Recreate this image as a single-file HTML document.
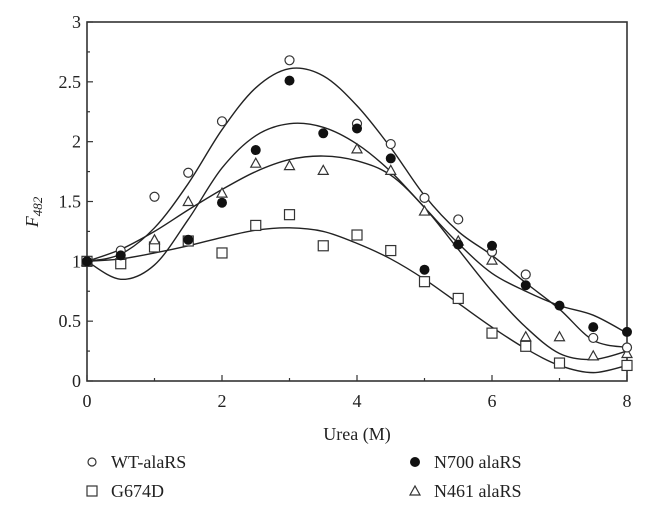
<!DOCTYPE html>
<html><head><meta charset="utf-8"><style>
html,body{margin:0;padding:0;background:#fff;}
svg{display:block;font-family:"Liberation Serif",serif;}
</style></head><body>
<svg id="chart" width="648" height="509"></svg>
<script>
const xVals=[0,0.5,1,1.5,2,2.5,3,3.5,4,4.5,5,5.5,6,6.5,7,7.5,8];
const wtX=[0,0.5,1,1.5,2,3,4,4.5,5,5.5,6,6.5,7.5,8];
const wtY=[1.0,1.09,1.54,1.74,2.17,2.68,2.15,1.98,1.53,1.35,1.08,0.89,0.36,0.28];
const n700X=[0,0.5,1.5,2,2.5,3,3.5,4,4.5,5,5.5,6,6.5,7,7.5,8];
const n700Y=[1.0,1.05,1.18,1.49,1.93,2.51,2.07,2.11,1.86,0.93,1.14,1.13,0.80,0.63,0.45,0.41];
const n461X=[0,0.5,1,1.5,2,2.5,3,3.5,4,4.5,5,5.5,6,6.5,7,7.5,8];
const n461Y=[1.0,1.05,1.18,1.50,1.57,1.82,1.80,1.76,1.94,1.76,1.42,1.17,1.01,0.37,0.37,0.21,0.23];
const gX=[0,0.5,1,1.5,2,2.5,3,3.5,4,4.5,5,5.5,6,6.5,7,8];
const gY=[1.0,0.98,1.12,1.17,1.07,1.30,1.39,1.13,1.22,1.09,0.83,0.69,0.40,0.29,0.15,0.13];
const wtFit=[1.0,1.06,1.28,1.65,2.1,2.45,2.61,2.55,2.3,1.95,1.55,1.25,1.05,0.82,0.6,0.34,0.28];
const n700Fit=[1.0,0.85,0.97,1.35,1.78,2.05,2.15,2.12,1.98,1.75,1.45,1.15,0.9,0.75,0.63,0.55,0.4];
const n461Fit=[1.0,1.1,1.25,1.43,1.6,1.75,1.85,1.88,1.84,1.72,1.45,1.1,0.75,0.45,0.23,0.18,0.25];
const gFit=[1.0,1.02,1.07,1.13,1.2,1.26,1.28,1.25,1.15,1.02,0.85,0.65,0.45,0.27,0.13,0.07,0.13];
const xTickLabels=["0","2","4","6","8"];
const yTickLabels=["0","0.5","1","1.5","2","2.5","3"];

const NS="http://www.w3.org/2000/svg";
const svg=document.getElementById('chart');
const X0=87,X1=627,Y0=381,Y1=22;
const sx=v=>X0+(X1-X0)*v/8;
const sy=v=>Y0-(Y0-Y1)*v/3;
function mk(tag,attrs,parent){const e=document.createElementNS(NS,tag);for(const k in attrs)e.setAttribute(k,attrs[k]);(parent||svg).appendChild(e);return e;}

const frame=mk('rect',{x:X0,y:Y1,width:X1-X0,height:Y0-Y1,fill:'none',stroke:'#333','stroke-width':1.6});



for(let i=0;i<=8;i++){
  const len=i%2===0?6:3;
  const t=mk('line',{x1:sx(i),x2:sx(i),y1:Y0,y2:Y0-len,stroke:'#333','stroke-width':1.2});
  
  
}
xTickLabels.forEach((s,i)=>{
  const t=mk('text',{x:sx(i*2),y:Y0+26,'text-anchor':'middle','font-size':18,fill:'#222'});
  t.textContent=s;
  
  
});
for(let i=0;i<=12;i++){
  const len=i%2===0?6:3;
  const t=mk('line',{x1:X0,x2:X0+len,y1:sy(i*0.25),y2:sy(i*0.25),stroke:'#333','stroke-width':1.2});
  
  
}
yTickLabels.forEach((s,i)=>{
  const t=mk('text',{x:X0-6,y:sy(i*0.5)+6,'text-anchor':'end','font-size':18,fill:'#222'});
  t.textContent=s;
  
  
});
const xt=mk('text',{x:357,y:440,'text-anchor':'middle','font-size':18,fill:'#222'});
xt.textContent='Urea (M)';


const yt=mk('text',{transform:'translate(38,212) rotate(-90)','text-anchor':'middle','font-size':18,fill:'#222','font-style':'italic'});
yt.innerHTML='F<tspan font-size="13" dy="4">482</tspan>';



function curve(vals,name){
  const p=xVals.map((x,i)=>[sx(x),sy(vals[i])]);
  let d='M'+p[0][0]+','+p[0][1];
  for(let i=0;i<p.length-1;i++){
    const a=p[Math.max(0,i-1)],b=p[i],c=p[i+1],e=p[Math.min(p.length-1,i+2)];
    d+=' C'+(b[0]+(c[0]-a[0])/6)+','+(b[1]+(c[1]-a[1])/6)+' '+(c[0]-(e[0]-b[0])/6)+','+(c[1]-(e[1]-b[1])/6)+' '+c[0]+','+c[1];
  }
  const el=mk('path',{d:d,fill:'none',stroke:'#222','stroke-width':1.4});
  
  
}
curve(wtFit,'wt-fit-curve');
curve(n700Fit,'n700-fit-curve');
curve(n461Fit,'n461-fit-curve');
curve(gFit,'g674d-fit-curve');

function marker(kind,cx,cy,g){
  if(kind==='circle') return mk('circle',{cx:cx,cy:cy,r:4.5,fill:'#fff',stroke:'#333','stroke-width':1.2},g);
  if(kind==='dot') return mk('circle',{cx:cx,cy:cy,r:5,fill:'#111'},g);
  if(kind==='square') return mk('rect',{x:cx-5,y:cy-5,width:10,height:10,fill:'#fff',stroke:'#333','stroke-width':1.2},g);
  return mk('polygon',{points:(cx-5)+','+(cy+4)+' '+(cx+5)+','+(cy+4)+' '+cx+','+(cy-5),fill:'#fff',stroke:'#333','stroke-width':1.2},g);
}
function series(xs,ys,kind,name){
  xs.forEach((x,i)=>{
    const m=marker(kind,sx(x),sy(ys[i]));
    
    
  });
}
series(gX,gY,'square','g674d-point');
series(n461X,n461Y,'tri','n461-point');
series(wtX,wtY,'circle','wt-point');
series(n700X,n700Y,'dot','n700-point');

function legend(kind,x,y,label,name){
  const g=mk('g',{});
  
  
  const k=kind==='dot'?mk('circle',{cx:x,cy:y-6,r:5,fill:'#111'},g):marker(kind,x,y-6,g);
  if(kind==='circle')k.setAttribute('r',4);
  const t=mk('text',{x:x+19,y:y,'font-size':18,fill:'#222'},g);
  t.textContent=label;
}
legend('circle',92,468,'WT-alaRS','legend-wt');
legend('dot',415,468,'N700 alaRS','legend-n700');
legend('square',92,497,'G674D','legend-g674d');
legend('tri',415,497,'N461 alaRS','legend-n461');
</script>
</body></html>
